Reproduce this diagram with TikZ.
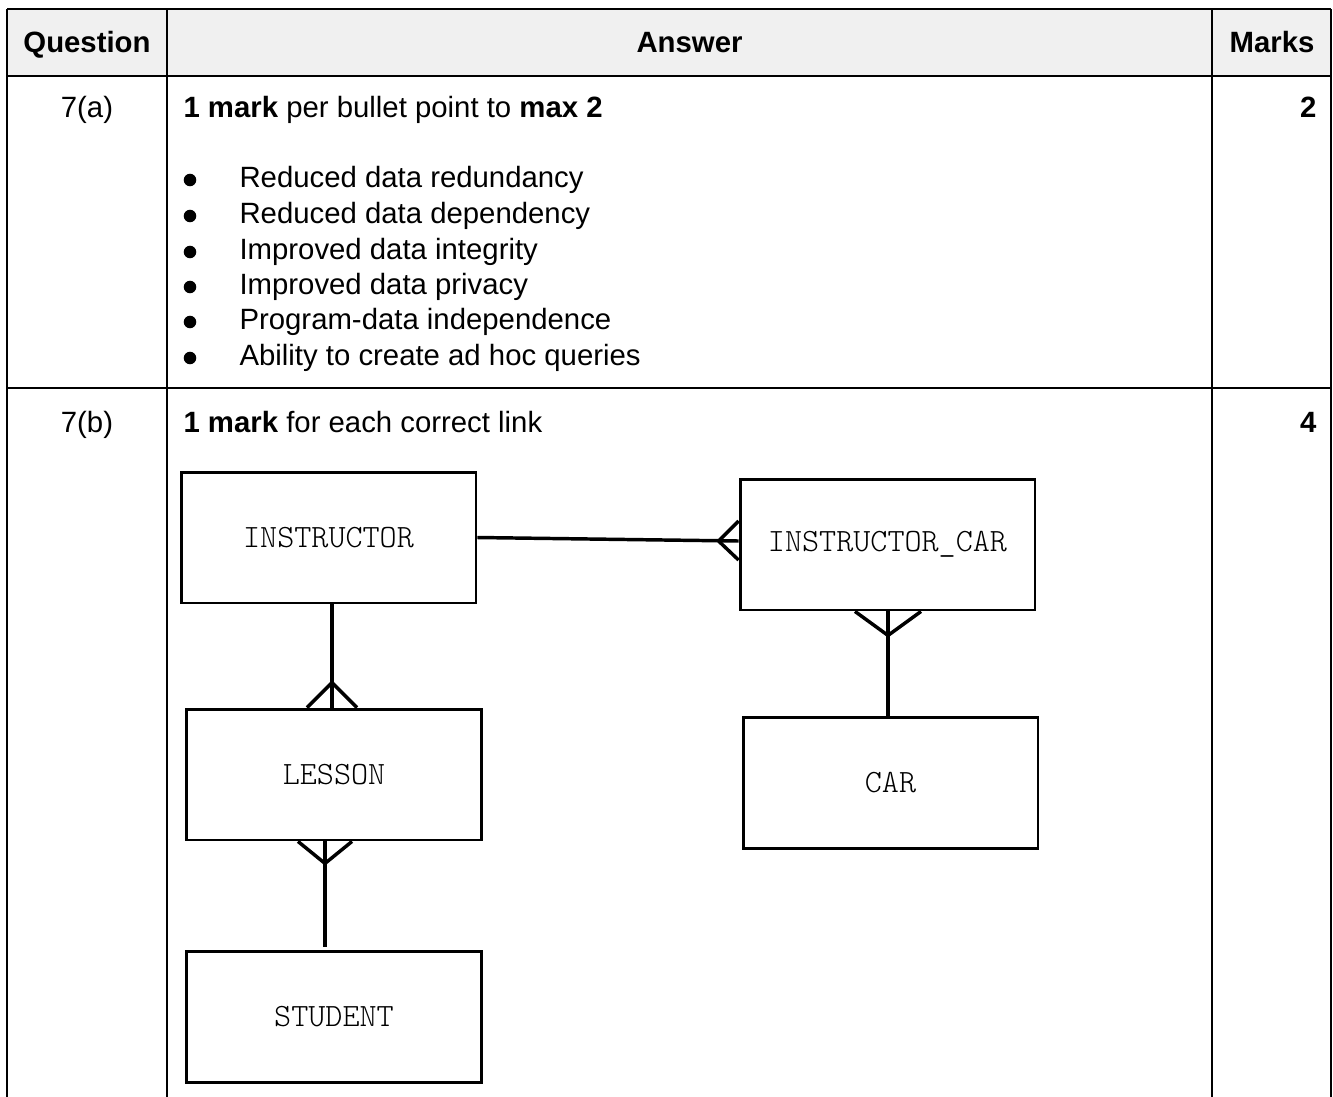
\documentclass[tikz,border=0pt]{standalone}
\usepackage{fontspec}
\setmainfont{Liberation Sans}
\newfontfamily\ermono{Latin Modern Mono Light}
\usetikzlibrary{calc}
\definecolor{hdrgray}{RGB}{240,240,240}
\begin{document}
\begin{tikzpicture}[x=0.375pt,y=-0.375pt,
  rule/.style={line width=1.1pt},
  txt/.style={inner sep=0pt,font=\fontsize{11}{13}\selectfont},
  hdr/.style={txt,anchor=base,font=\fontsize{11}{13}\selectfont\bfseries},
  bul/.style={circle,fill=black,inner sep=0pt,minimum size=4.7pt},
  item/.style={txt,anchor=base west},
  erbox/.style={draw,line width=1.1pt,minimum width=110.6pt,minimum height=49.1pt,inner sep=0pt,font=\fontsize{12.2}{14}\selectfont\ermono},
  link/.style={line width=1.3pt}]
\useasboundingbox (0,0) rectangle (1333,1097);
% table
\fill[hdrgray] (7,9) rectangle (1331,76);
\draw[rule] (7,9) -- (1331,9);
\draw[rule] (7,76) -- (1331,76);
\draw[rule] (7,388) -- (1331,388);
\draw[rule] (7,9) -- (7,1097);
\draw[rule] (167,9) -- (167,1097);
\draw[rule] (1212,9) -- (1212,1097);
\draw[rule] (1331,9) -- (1331,1097);
% header
\node[hdr] (hq) at (87,52) {Question};
\node[hdr] (ha) at (689.5,52) {Answer};
\node[hdr] (hm) at (1272,52) {Marks};
% row 7(a)
\node[txt,anchor=base] (qa) at (87,117) {7(a)};
\node[txt,anchor=base west] (ta) at (183,117) {\textbf{1 mark} per bullet point to \textbf{max 2}};
\node[txt,anchor=base east,font=\fontsize{11}{13}\selectfont\bfseries] (ma) at (1317,117) {2};
\node[bul] (b1) at (190,180) {};
\node[bul] (b2) at (190,216) {};
\node[bul] (b3) at (190,252) {};
\node[bul] (b4) at (190,287) {};
\node[bul] (b5) at (190,322) {};
\node[bul] (b6) at (190,358) {};
\node[item] (i1) at (239,187) {Reduced data redundancy};
\node[item] (i2) at (239,223) {Reduced data dependency};
\node[item] (i3) at (239,259) {Improved data integrity};
\node[item] (i4) at (239,294) {Improved data privacy};
\node[item] (i5) at (239,329) {Program-data independence};
\node[item] (i6) at (239,365) {Ability to create ad hoc queries};
% row 7(b)
\node[txt,anchor=base] (qb) at (87,432) {7(b)};
\node[txt,anchor=base west] (tb) at (183,432) {\textbf{1 mark} for each correct link};
\node[txt,anchor=base east,font=\fontsize{11}{13}\selectfont\bfseries] (mb) at (1317,432) {4};
% ER diagram
\node[erbox] (inst) at (328.5,537.5) {INSTRUCTOR};
\node[erbox] (les) at (334,774.5) {LESSON};
\node[erbox] (stu) at (334,1017) {STUDENT};
\node[erbox] (ic) at (887.5,544.5) {INSTRUCTOR\_CAR};
\node[erbox] (car) at (890.5,783) {CAR};
% INSTRUCTOR - INSTRUCTOR_CAR
\draw[link] (inst.east) -- ($(ic.west)+(0,-3.5)$);
\draw[link] ($(ic.west)+(-20,-3.5)$) -- ($(ic.west)+(0,-23.5)$);
\draw[link] ($(ic.west)+(-20,-3.5)$) -- ($(ic.west)+(0,15.5)$);
% INSTRUCTOR - LESSON
\draw[link] ($(inst.south)+(3.5,0)$) -- ($(les.north)+(-2,0)$);
\draw[link] ($(les.north)+(-2,-25)$) -- ($(les.north)+(-27,0)$);
\draw[link] ($(les.north)+(-2,-25)$) -- ($(les.north)+(23,0)$);
% LESSON - STUDENT
\draw[link] ($(les.south)+(-9,0)$) -- ($(stu.north)+(-9,-3)$);
\draw[link] ($(les.south)+(-9,22)$) -- ($(les.south)+(-36,0)$);
\draw[link] ($(les.south)+(-9,22)$) -- ($(les.south)+(18,0)$);
% INSTRUCTOR_CAR - CAR
\draw[link] ($(ic.south)+(0.5,0)$) -- ($(car.north)+(-2.5,0)$);
\draw[link] ($(ic.south)+(0.5,24)$) -- ($(ic.south)+(-32.5,0)$);
\draw[link] ($(ic.south)+(0.5,24)$) -- ($(ic.south)+(33.5,0)$);
\end{tikzpicture}
\end{document}
